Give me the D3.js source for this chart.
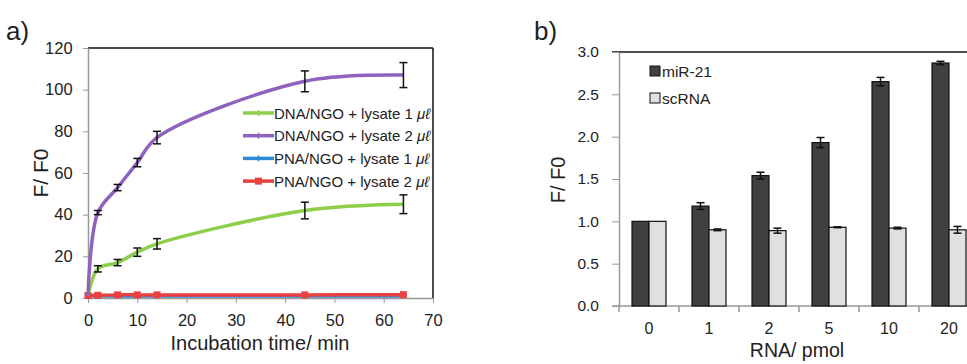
<!DOCTYPE html>
<html>
<head>
<meta charset="utf-8">
<script src="https://cdn.jsdelivr.net/npm/d3@7"></script>
<style>
  body { margin: 0; background: #fff; }
  svg text { font-family: "Liberation Sans", Arial, sans-serif; fill: #222; }
</style>
</head>
<body>
<div id="chart"></div>
<script>
// ---- data, panel a ----
var times = [0, 2, 6, 10, 14, 44, 64];
var dna1 = [1, 14, 17, 22, 26, 42, 45];
var dna1Err = [0, 1.5, 1.5, 2, 2.5, 4, 4.5];
var dna2 = [1, 41, 53, 65, 77, 104, 107];
var dna2Err = [0, 1, 1.5, 2, 3, 5, 6];
var pna1 = [1, 1, 1, 1, 1, 1, 1];
var pna2 = [1.2, 1.3, 1.5, 1.5, 1.5, 1.5, 1.6];
var lineNames = ["DNA/NGO + lysate 1 ", "DNA/NGO + lysate 2 ", "PNA/NGO + lysate 1 ", "PNA/NGO + lysate 2 "];
var lineColors = ["#8dcf4a", "#8e62be", "#2f8ad6", "#e8413f"];
var xTicksA = [0, 10, 20, 30, 40, 50, 60, 70];
var yTicksA = [0, 20, 40, 60, 80, 100, 120];

// ---- data, panel b ----
var pmol = ["0", "1", "2", "5", "10", "20"];
var mir21 = [1.0, 1.18, 1.54, 1.93, 2.65, 2.87];
var mir21Err = [0, 0.04, 0.04, 0.06, 0.05, 0.02];
var scrna = [1.0, 0.90, 0.89, 0.93, 0.92, 0.90];
var scrnaErr = [0, 0.01, 0.03, 0.005, 0.01, 0.04];
var barNames = ["miR-21", "scRNA"];
var barColors = ["#404040", "#e0e0e0"];
var yTicksB = [0, 0.5, 1.0, 1.5, 2.0, 2.5, 3.0];

var svg = d3.select("#chart").append("svg")
    .attr("width", 967).attr("height", 364);

// ================= panel a =================
var xA = d3.scaleLinear().domain([0, 70]).range([88, 433]);
var yA = d3.scaleLinear().domain([0, 120]).range([298, 48]);

svg.append("text").attr("x", 6).attr("y", 40).style("font-size", "26px").text("a)");

// frame: top/right black, left/bottom grey
svg.append("line").attr("x1", xA(0)).attr("x2", xA(70)).attr("y1", yA(120)).attr("y2", yA(120))
   .attr("stroke", "#111").attr("stroke-width", 1.5);
svg.append("line").attr("x1", xA(70)).attr("x2", xA(70)).attr("y1", yA(120)).attr("y2", yA(0))
   .attr("stroke", "#111").attr("stroke-width", 1.5);

var axA_x = svg.append("g").attr("transform", "translate(0," + yA(0) + ")")
   .call(d3.axisBottom(xA).tickValues(xTicksA).tickSize(5).tickSizeOuter(0));
var axA_y = svg.append("g").attr("transform", "translate(" + xA(0) + ",0)")
   .call(d3.axisLeft(yA).tickValues(yTicksA).tickSize(5).tickSizeOuter(0));
[axA_x, axA_y].forEach(function(g) {
  g.select(".domain").attr("stroke", "#999").attr("stroke-width", 1.5);
  g.selectAll(".tick line").attr("stroke", "#999");
  g.selectAll(".tick text").style("font-size", "16.5px").attr("fill", "#222")
   .style("font-family", "Liberation Sans, Arial, sans-serif");
});
axA_x.selectAll(".tick text").attr("dy", "1.2em");
axA_y.selectAll(".tick text").attr("dx", "-0.45em");

svg.append("text").attr("transform", "translate(48,173) rotate(-90)")
   .attr("text-anchor", "middle").style("font-size", "21px").text("F/ F0");
svg.append("text").attr("x", 260).attr("y", 350)
   .attr("text-anchor", "middle").style("font-size", "20px").text("Incubation time/ min");

var series = [dna1, dna2, pna1, pna2];
var errs = [dna1Err, dna2Err, null, null];
var line = d3.line().curve(d3.curveCatmullRom.alpha(0.5))
   .x(function(d) { return xA(d[0]); }).y(function(d) { return yA(d[1]); });

// draw bottom ones first so purple/green sit above
[2, 3, 0, 1].forEach(function(k) {
  var pts = times.map(function(t, i) { return [t, series[k][i]]; });
  svg.append("path").datum(pts).attr("d", line)
     .attr("fill", "none").attr("stroke", lineColors[k]).attr("stroke-width", 3.5);
  if (k === 3) {
    svg.append("g").selectAll("rect").data(pts).enter().append("rect")
       .attr("x", function(d) { return xA(d[0]) - 3.5; })
       .attr("y", function(d) { return yA(d[1]) - 3.5; })
       .attr("width", 7).attr("height", 7).attr("fill", lineColors[k]);
  }
  if (errs[k]) {
    var eg = svg.append("g").attr("stroke", "#111").attr("stroke-width", 1.5);
    times.forEach(function(t, i) {
      var e = errs[k][i];
      if (!e) return;
      var cx = xA(t);
      eg.append("line").attr("x1", cx).attr("x2", cx).attr("y1", yA(series[k][i] - e)).attr("y2", yA(series[k][i] + e));
      eg.append("line").attr("x1", cx - 4).attr("x2", cx + 4).attr("y1", yA(series[k][i] - e)).attr("y2", yA(series[k][i] - e));
      eg.append("line").attr("x1", cx - 4).attr("x2", cx + 4).attr("y1", yA(series[k][i] + e)).attr("y2", yA(series[k][i] + e));
    });
  }
});

// legend a
var legA = svg.append("g").attr("transform", "translate(243,113)");
lineNames.forEach(function(name, i) {
  var g = legA.append("g").attr("transform", "translate(0," + (i * 22.7) + ")");
  g.append("line").attr("x1", 0).attr("x2", 31).attr("y1", 0).attr("y2", 0)
   .attr("stroke", lineColors[i]).attr("stroke-width", 3.5);
  if (i === 3) g.append("rect").attr("x", 12).attr("y", -3.5).attr("width", 7).attr("height", 7).attr("fill", lineColors[i]);
  else g.append("line").attr("x1", 15.5).attr("x2", 15.5).attr("y1", -3).attr("y2", 3).attr("stroke", lineColors[i]).attr("stroke-width", 1.5);
  var t = g.append("text").attr("x", 31).attr("y", 5.5).style("font-size", "15px").text(name);
  t.append("tspan").style("font-style", "italic").text("μℓ");
});

// ================= panel b =================
var xB = d3.scaleBand().domain(pmol).range([619, 979]);
var xInner = d3.scaleBand().domain(barNames).range([0, 34]);
var yB = d3.scaleLinear().domain([0, 3]).range([306, 52]);

svg.append("text").attr("x", 534).attr("y", 40).style("font-size", "26px").text("b)");

svg.append("line").attr("x1", 612).attr("x2", 967).attr("y1", yB(3)).attr("y2", yB(3))
   .attr("stroke", "#111").attr("stroke-width", 1.5);

var axB_y = svg.append("g").attr("transform", "translate(619,0)")
   .call(d3.axisLeft(yB).tickValues(yTicksB).tickFormat(d3.format(".1f")).tickSize(7).tickSizeOuter(0));
axB_y.select(".domain").attr("stroke", "#999").attr("stroke-width", 1.5);
axB_y.selectAll(".tick line").attr("stroke", "#999");
axB_y.selectAll(".tick text").style("font-size", "15.5px").attr("fill", "#222").attr("dx", "-0.65em");

// bottom axis with ticks between categories
var axB_x = svg.append("g");
axB_x.append("line").attr("x1", 612).attr("x2", 967).attr("y1", yB(0)).attr("y2", yB(0))
   .attr("stroke", "#999").attr("stroke-width", 1.5);
pmol.forEach(function(c) {
  var x0 = xB(c);
  axB_x.append("line").attr("x1", x0).attr("x2", x0).attr("y1", yB(0)).attr("y2", yB(0) + 6)
     .attr("stroke", "#999").attr("stroke-width", 1.5);
  axB_x.append("text").attr("x", x0 + xB.bandwidth() / 2).attr("y", yB(0) + 28)
     .attr("text-anchor", "middle").style("font-size", "16px").text(c);
});

svg.append("text").attr("transform", "translate(565,180) rotate(-90)")
   .attr("text-anchor", "middle").style("font-size", "20px").text("F/ F0");
svg.append("text").attr("x", 797).attr("y", 357)
   .attr("text-anchor", "middle").style("font-size", "19.5px").text("RNA/ pmol");

var barVals = [mir21, scrna];
var barErrs = [mir21Err, scrnaErr];
barNames.forEach(function(name, s) {
  var off = (xB.bandwidth() - 34) / 2;
  svg.append("g").selectAll("rect").data(pmol).enter().append("rect")
     .attr("x", function(c) { return xB(c) + off + xInner(name); })
     .attr("y", function(c, i) { return yB(barVals[s][i]); })
     .attr("width", xInner.bandwidth())
     .attr("height", function(c, i) { return yB(0) - yB(barVals[s][i]); })
     .attr("fill", barColors[s]).attr("stroke", "#111").attr("stroke-width", 1.2);
  var eg = svg.append("g").attr("stroke", "#111").attr("stroke-width", 1.5);
  pmol.forEach(function(c, i) {
    var e = barErrs[s][i];
    if (!e) return;
    var cx = xB(c) + off + xInner(name) + xInner.bandwidth() / 2;
    var v = barVals[s][i];
    eg.append("line").attr("x1", cx).attr("x2", cx).attr("y1", yB(v - e)).attr("y2", yB(v + e));
    eg.append("line").attr("x1", cx - 4).attr("x2", cx + 4).attr("y1", yB(v - e)).attr("y2", yB(v - e));
    eg.append("line").attr("x1", cx - 4).attr("x2", cx + 4).attr("y1", yB(v + e)).attr("y2", yB(v + e));
  });
});

// legend b
var legB = svg.append("g").attr("transform", "translate(650,71)");
barNames.forEach(function(name, i) {
  var g = legB.append("g").attr("transform", "translate(0," + (i * 27) + ")");
  g.append("rect").attr("x", 0).attr("y", -5).attr("width", 10).attr("height", 10)
   .attr("fill", barColors[i]).attr("stroke", "#111").attr("stroke-width", 1);
  g.append("text").attr("x", 12).attr("y", 5.5).style("font-size", "15.5px").text(name);
});
</script>
</body>
</html>
